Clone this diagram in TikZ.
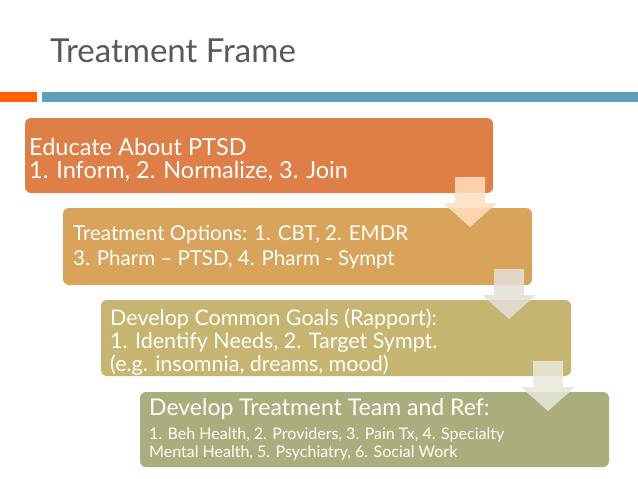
\documentclass[tikz,border=0pt]{standalone}
\usepackage{fontspec}
\setmainfont{Lato}
\begin{document}
\begin{tikzpicture}[x=1pt,y=-1pt,
 bx/.style={rounded corners=6pt,draw=none},
 txt/.style={anchor=base west,text=white,inner sep=0pt},
 barrow/.style={fill=#1,draw=none,opacity=0.85}]
\useasboundingbox (0,0) rectangle (638,479);
\fill[white] (0,0) rectangle (638,479);
\node[anchor=base west,text=black!65,font=\fontsize{33}{36}\selectfont,inner sep=0pt] (title) at (50,62) {Treatment Frame};
\fill[orange!75!red] (0,92) rectangle (37,102);
\fill[blue!30!cyan!40!gray!90] (42,92) rectangle (638,102);
\definecolor{c1}{HTML}{DE7F47}
\definecolor{c2}{HTML}{D8A35A}
\definecolor{c3}{HTML}{C5B570}
\definecolor{c4}{HTML}{ABAE7C}
\fill[bx,c1] (25,118) rectangle (493,193);
\fill[bx,c2] (63,208) rectangle (532,285);
\fill[bx,c3] (101,300) rectangle (571,376);
\fill[bx,c4] (140,392) rectangle (609,467);
\begin{scope}[font=\fontsize{23.5}{26}\selectfont]
\node[txt] (t1a) at (29,155) {Educate About PTSD};
\node[txt] (t1b) at (29,178) {1. Inform, 2. Normalize, 3. Join};
\end{scope}
\begin{scope}[font=\fontsize{20.5}{24}\selectfont]
\node[txt] (t2a) at (73,240) {Treatment Options: 1. CBT, 2. EMDR};
\node[txt] (t2b) at (73,265) {3. Pharm -- PTSD, 4. Pharm - Sympt};
\end{scope}
\begin{scope}[font=\fontsize{21.5}{24}\selectfont]
\node[txt] (t3a) at (110,325) {Develop Common Goals (Rapport):};
\node[txt] (t3b) at (110,348) {1. Identify Needs, 2. Target Sympt.};
\node[txt] (t3c) at (110,371) {(e.g. insomnia, dreams, mood)};
\end{scope}
\node[txt,font=\fontsize{23}{26}\selectfont] (t4a) at (149,415) {Develop Treatment Team and Ref:};
\begin{scope}[font=\fontsize{16}{18}\selectfont]
\node[txt] (t4b) at (149,439) {1. Beh Health, 2. Providers, 3. Pain Tx, 4. Specialty};
\node[txt] (t4c) at (149,457) {Mental Health, 5. Psychiatry, 6. Social Work};
\end{scope}
\foreach \dx/\dy/\c in {0/0/{orange!25},39/92/{orange!20!gray!25},78/184/{yellow!20!gray!25}}{
 \fill[barrow=\c] (455+\dx,177+\dy) -- (485+\dx,177+\dy) -- (485+\dx,203+\dy) -- (497+\dx,203+\dy) -- (470+\dx,227+\dy) -- (443+\dx,203+\dy) -- (455+\dx,203+\dy) -- cycle;}
\end{tikzpicture}
\end{document}
